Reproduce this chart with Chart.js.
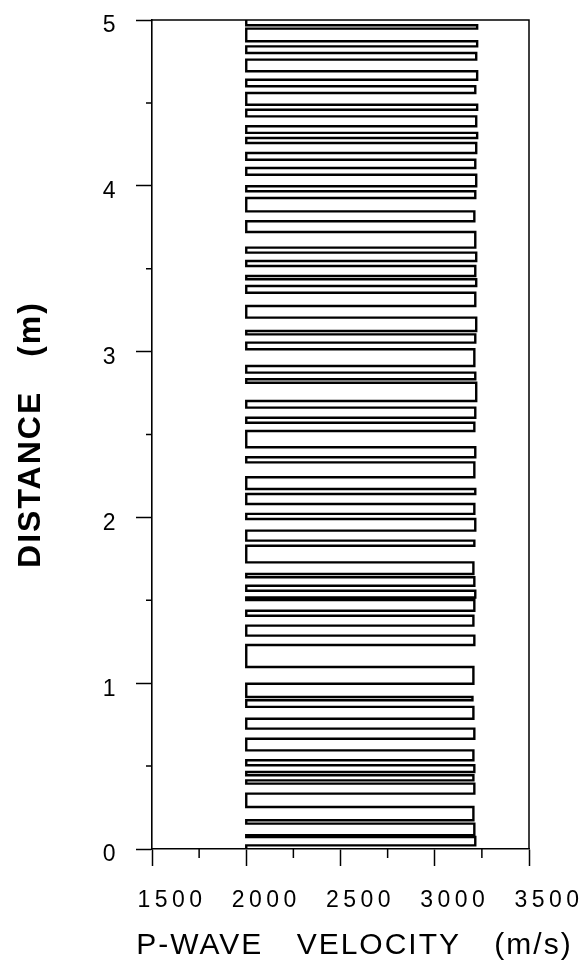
<!DOCTYPE html>
<html>
<head>
<meta charset="utf-8">
<script src="https://cdn.jsdelivr.net/npm/chart.js@4.4.0/dist/chart.umd.min.js"></script>
<style>
    body { margin: 0; background: #fff; }
    #wrap { width: 587px; height: 968px; }
</style>
</head>
<body>
<div id="wrap"><canvas id="velocityChart"></canvas></div>
<script>
// layer boundaries (m), bottom to top
const depth = [
    0, 0.022, 0.072, 0.083, 0.153, 0.173, 0.253, 0.334, 0.394, 0.414,
    0.445, 0.464, 0.505, 0.535, 0.595, 0.665, 0.726, 0.786, 0.857, 0.897,
    0.917, 0.997, 1.098, 1.230, 1.287, 1.347, 1.407, 1.437, 1.502, 1.517,
    1.558, 1.588, 1.639, 1.659, 1.729, 1.829, 1.860, 1.920, 1.990, 2.021,
    2.081, 2.141, 2.171, 2.242, 2.332, 2.363, 2.423, 2.521, 2.571, 2.601,
    2.662, 2.702, 2.812, 2.833, 2.873, 2.913, 3.014, 3.054, 3.104, 3.124,
    3.205, 3.275, 3.355, 3.396, 3.436, 3.456, 3.516, 3.546, 3.597, 3.627,
    3.721, 3.786, 3.846, 3.926, 3.967, 3.997, 4.067, 4.107, 4.157, 4.198,
    4.258, 4.288, 4.319, 4.359, 4.419, 4.459, 4.489, 4.560, 4.600, 4.640,
    4.691, 4.761, 4.801, 4.841, 4.872, 4.948, 4.968, 5.0
];

// velocity of the slow layers (m/s), bottom to top
const lowVelocity = [
    2000, 2000, 2000, 2000, 2000, 2000, 2000, 2000, 2000, 2000,
    2000, 2000, 2000, 2000, 2000, 2000, 2000, 2000, 2000, 2000,
    2000, 2000, 2000, 2000, 2000, 2000, 2000, 2000, 2000, 2000,
    2000, 2000, 2000, 2000, 2000, 2000, 2000, 2000, 2000, 2000,
    2000, 2000, 2000, 2000, 2000, 2000, 2000, 2000, 2000
];

// velocity of the fast layers (m/s), bottom to top
const highVelocity = [
    3215, 3210, 3205, 3210, 3205, 3210, 3205, 3210, 3205, 3200,
    3205, 3210, 3205, 3210, 3215, 3210, 3205, 3210, 3215, 3210,
    3215, 3210, 3215, 3210, 3215, 3220, 3215, 3210, 3215, 3220,
    3215, 3220, 3215, 3220, 3215, 3210, 3215, 3220, 3215, 3220,
    3225, 3220, 3225, 3215, 3225, 3220, 3225, 3225
];

const xTicks = [1500, 2000, 2500, 3000, 3500];
const yTicks = [0, 1, 2, 3, 4, 5];
const minorX = [1750, 2250, 2750, 3250];
const minorY = [0.5, 1.5, 2.5, 3.5, 4.5];

const points = [];
for (let i = 0; i < depth.length - 1; i++) {
    const v = i % 2 === 0 ? lowVelocity[i / 2] : highVelocity[(i - 1) / 2];
    points.push({ x: v, y: depth[i] });
    points.push({ x: v, y: depth[i + 1] });
}

const fontFamily = "'Liberation Sans', Arial, sans-serif";

const textSpacing = {
    id: 'textSpacing',
    afterUpdate(chart) {
        const x = chart.scales.x;
        if (!x._widened) {
            // title is wider than the plot and sits a bit right of centre
            const drawTitle = x.drawTitle;
            x.drawTitle = function () {
                const { left, right } = this;
                this.left = left - 26;
                this.right = right + 54;
                drawTitle.call(this);
                this.left = left;
                this.right = right;
            };
            x._widened = true;
        }
    },
    beforeDraw(chart) {
        chart.ctx.letterSpacing = '2px';
        chart.ctx.wordSpacing = '23px';
    },
    afterDatasetsDraw(chart) {
        chart.ctx.letterSpacing = '4.5px';
        chart.ctx.wordSpacing = '0px';
    }
};

const frame = {
    id: 'frame',
    afterDraw(chart) {
        const { ctx, chartArea: a, scales: { x, y } } = chart;
        ctx.save();
        ctx.strokeStyle = '#000';
        ctx.lineWidth = 1.5;
        ctx.beginPath();
        ctx.moveTo(a.left, a.top);
        ctx.lineTo(a.right, a.top);
        ctx.lineTo(a.right, a.bottom);
        minorX.forEach(v => {
            const px = x.getPixelForValue(v);
            ctx.moveTo(px, a.bottom);
            ctx.lineTo(px, a.bottom + 9);
        });
        minorY.forEach(v => {
            const py = y.getPixelForValue(v);
            ctx.moveTo(a.left, py);
            ctx.lineTo(a.left - 6, py);
        });
        ctx.stroke();
        ctx.restore();
    }
};

const ctx = document.getElementById('velocityChart').getContext('2d');

const velocityChart = new Chart(ctx, {
    type: 'scatter',
    data: {
        datasets: [{
            label: 'P-wave velocity',
            data: points,
            showLine: true,
            borderColor: '#000',
            borderWidth: 2.4,
            pointRadius: 0,
            tension: 0
        }]
    },
    options: {
        responsive: true,
        maintainAspectRatio: false,
        animation: false,
        layout: { padding: { top: 20, right: 58, left: 0, bottom: 0 } },
        plugins: {
            legend: { display: false },
            tooltip: { enabled: false }
        },
        scales: {
            x: {
                type: 'linear',
                position: 'bottom',
                min: 1500,
                max: 3500,
                afterFit: s => {
                    s.height = 119;
                    s.paddingLeft = 0;
                    s.paddingRight = 0;
                },
                afterBuildTicks: s => { s.ticks = xTicks.map(v => ({ value: v })); },
                ticks: {
                    z: 1,
                    autoSkip: false,
                    maxRotation: 0,
                    color: '#000',
                    padding: 21,
                    labelOffset: 20,
                    font: { family: fontFamily, size: 23 },
                    callback: v => String(v)
                },
                grid: {
                    drawOnChartArea: false,
                    tickLength: 17,
                    tickColor: '#000',
                    tickWidth: 1.5
                },
                border: { color: '#000', width: 1.6 },
                title: {
                    display: true,
                    text: 'P-WAVE VELOCITY (m/s)',
                    color: '#000',
                    font: { family: fontFamily, size: 30, lineHeight: 1 },
                    padding: { top: 0, bottom: 7.5 }
                }
            },
            y: {
                type: 'linear',
                position: 'left',
                min: 0,
                max: 5,
                afterFit: s => {
                    s.width = 152;
                    s.paddingTop = 0;
                    s.paddingBottom = 0;
                },
                afterBuildTicks: s => { s.ticks = yTicks.map(v => ({ value: v })); },
                ticks: {
                    z: 1,
                    autoSkip: false,
                    color: '#000',
                    padding: 16,
                    labelOffset: 6,
                    font: { family: fontFamily, size: 23 },
                    callback: v => String(v)
                },
                grid: {
                    drawOnChartArea: false,
                    tickLength: 16,
                    tickColor: '#000',
                    tickWidth: 1.5
                },
                border: { color: '#000', width: 1.6 },
                title: {
                    display: true,
                    text: 'DISTANCE (m)',
                    color: '#000',
                    font: { family: fontFamily, size: 32, weight: 'bold', lineHeight: 1 },
                    padding: { top: 15, bottom: 0 }
                }
            }
        }
    },
    plugins: [textSpacing, frame]
});
</script>
</body>
</html>
